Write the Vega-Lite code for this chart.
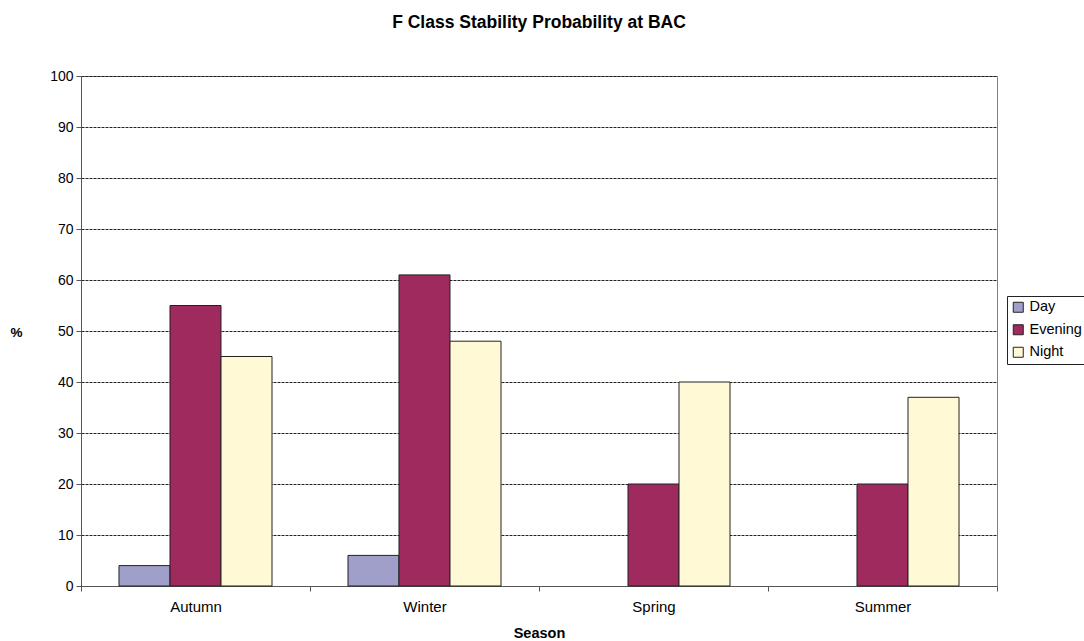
{
  "$schema": "https://vega.github.io/schema/vega-lite/v6.json",
  "width": 916,
  "height": 510,
  "autosize": {"type": "none"},
  "padding": {"left": 81, "top": 76, "right": 87, "bottom": 55},
  "background": "white",
  "title": {
    "text": "F Class Stability Probability at BAC",
    "font": "Liberation Sans",
    "fontSize": 17.5,
    "fontWeight": "bold",
    "color": "#000",
    "offset": 38
  },
  "config": {
    "view": {"stroke": "#808080", "strokeWidth": 1},
    "font": "Liberation Sans"
  },
  "data": {
    "values": [
      {"season": "Autumn", "period": "Day", "value": 4},
      {"season": "Autumn", "period": "Evening", "value": 55},
      {"season": "Autumn", "period": "Night", "value": 45},
      {"season": "Winter", "period": "Day", "value": 6},
      {"season": "Winter", "period": "Evening", "value": 61},
      {"season": "Winter", "period": "Night", "value": 48},
      {"season": "Spring", "period": "Day", "value": 0},
      {"season": "Spring", "period": "Evening", "value": 20},
      {"season": "Spring", "period": "Night", "value": 40},
      {"season": "Summer", "period": "Day", "value": 0},
      {"season": "Summer", "period": "Evening", "value": 20},
      {"season": "Summer", "period": "Night", "value": 37}
    ]
  },
  "mark": {"type": "bar", "stroke": "#222", "strokeWidth": 1},
  "encoding": {
    "x": {
      "field": "season",
      "type": "nominal",
      "sort": ["Autumn", "Winter", "Spring", "Summer"],
      "scale": {"paddingInner": 0, "paddingOuter": 0},
      "axis": {
        "title": "Season",
        "titleFont": "Liberation Sans",
        "titleFontSize": 14.5,
        "titleFontWeight": "bold",
        "titleColor": "#000",
        "titlePadding": 12,
        "labelAngle": 0,
        "labelFont": "Liberation Sans",
        "labelFontSize": 15,
        "labelColor": "#000",
        "labelPadding": 8,
        "tickBand": "extent",
        "tickColor": "#555",
        "tickSize": 5,
        "domainColor": "#555",
        "grid": false
      }
    },
    "xOffset": {
      "field": "period",
      "type": "nominal",
      "scale": {"paddingInner": 0, "paddingOuter": 0.745}
    },
    "y": {
      "field": "value",
      "type": "quantitative",
      "scale": {"domain": [0, 100], "nice": false},
      "axis": {
        "title": "%",
        "titleAngle": 0,
        "titleX": -65,
        "titleY": 256,
        "titleAlign": "center",
        "titleBaseline": "middle",
        "titleFont": "Liberation Sans",
        "titleFontSize": 13.5,
        "titleFontWeight": "bold",
        "titleColor": "#000",
        "values": [0, 10, 20, 30, 40, 50, 60, 70, 80, 90, 100],
        "labelFont": "Liberation Sans",
        "labelFontSize": 14,
        "labelColor": "#000",
        "labelPadding": 3,
        "tickColor": "#555",
        "tickSize": 5,
        "domainColor": "#555",
        "grid": true,
        "gridColor": "#222",
        "gridDash": [3, 1],
        "gridWidth": 1
      }
    },
    "strokeOpacity": {
      "condition": {"test": "datum.value > 0", "value": 1},
      "value": 0
    },
    "color": {
      "field": "period",
      "type": "nominal",
      "scale": {
        "domain": ["Day", "Evening", "Night"],
        "range": ["#A09FCA", "#9E2A5E", "#FFF9D6"]
      },
      "legend": {
        "title": null,
        "orient": "none",
        "legendX": 926,
        "legendY": 220,
        "symbolType": "square",
        "symbolSize": 100,
        "symbolStrokeColor": "#222",
        "symbolStrokeWidth": 1,
        "symbolOpacity": 1,
        "labelFont": "Liberation Sans",
        "labelFontSize": 14.5,
        "labelColor": "#000",
        "labelOffset": 4,
        "rowPadding": 6.5,
        "strokeColor": "#222",
        "padding": 4
      }
    }
  }
}
